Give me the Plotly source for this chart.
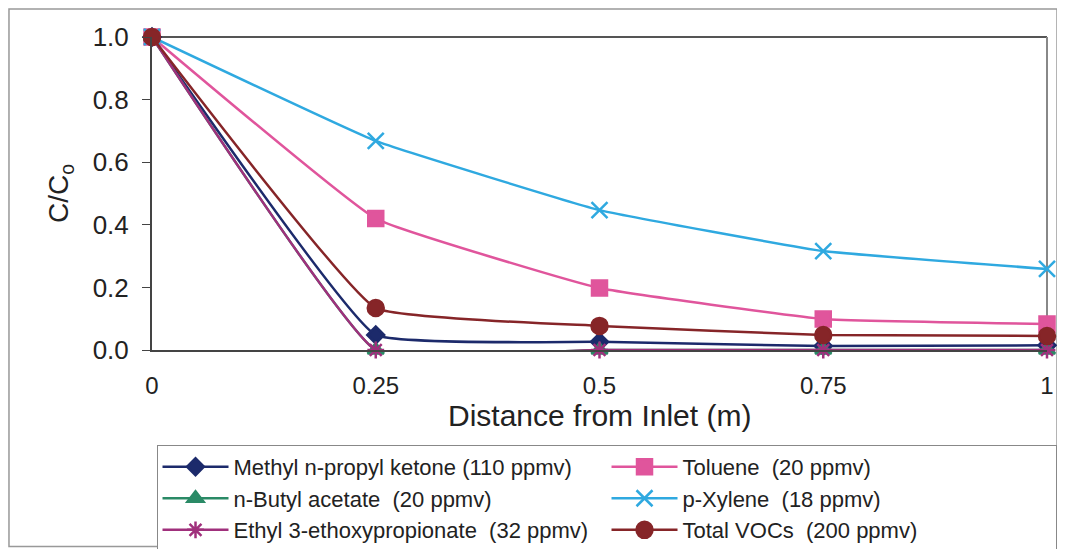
import plotly.graph_objects as go

distance = [0, 0.25, 0.5, 0.75, 1]
mpk = [1.0, 0.048, 0.026, 0.013, 0.015]
toluene = [1.0, 0.42, 0.198, 0.099, 0.083]
butyl = [1.0, 0.0, 0.0, 0.0, 0.0]
xylene = [1.0, 0.668, 0.447, 0.316, 0.259]
ethyl = [1.0, 0.0, 0.0, 0.0, 0.0]
total = [1.0, 0.134, 0.077, 0.048, 0.045]

x_ticks = [0, 0.25, 0.5, 0.75, 1]
x_labels = ["0", "0.25", "0.5", "0.75", "1"]
y_ticks = [0, 0.2, 0.4, 0.6, 0.8, 1.0]
y_labels = ["0.0", "0.2", "0.4", "0.6", "0.8", "1.0"]

series = [
    ("Methyl n-propyl ketone (110 ppmv)", mpk, "#1c2a6b", "diamond", 13),
    ("Toluene  (20 ppmv)", toluene, "#e0559c", "square", 15),
    ("n-Butyl acetate  (20 ppmv)", butyl, "#2a8a66", "triangle-up", 14),
    ("p-Xylene  (18 ppmv)", xylene, "#2fa9e0", "x-thin", 16),
    ("Ethyl 3-ethoxypropionate  (32 ppmv)", ethyl, "#a0307c", "asterisk", 14),
    ("Total VOCs  (200 ppmv)", total, "#862528", "circle", 16),
]

fig = go.Figure()
for i, (name, vals, color, sym, size) in enumerate(series):
    fig.add_trace(go.Scatter(
        x=distance, y=vals, name=name, mode="lines+markers",
        line=dict(color=color, width=2.5, shape="spline", smoothing=0.3),
        marker=dict(symbol=sym, size=size, color=color,
                    line=dict(color=color, width=2.5)),
        cliponaxis=False,
    ))

# page body adds an 8px offset on the left and top
fig.update_layout(
    width=1057, height=541,
    margin=dict(l=144, r=18, t=29, b=199, autoexpand=False),
    paper_bgcolor="white", plot_bgcolor="white",
    font=dict(family="Liberation Sans, Arial, sans-serif", color="#222"),
    showlegend=True,
    legend=dict(
        orientation="h", xref="container", yref="container",
        x=0.1405, y=0.1925, xanchor="left", yanchor="top",
        font=dict(size=22, color="#222"), bordercolor="#888", borderwidth=1,
        entrywidth=368, itemwidth=66, tracegroupgap=0, traceorder="normal",
        bgcolor="white",
    ),
    xaxis=dict(
        range=[0, 1], tickvals=x_ticks, ticktext=x_labels, automargin=False,
        tickfont=dict(size=24), showline=True, linecolor="#444", linewidth=2,
        mirror=False, ticks="", showgrid=False, zeroline=False,
        ticklabelstandoff=13,
    ),
    yaxis=dict(
        range=[0, 1], tickvals=y_ticks, ticktext=y_labels, automargin=False,
        tickfont=dict(size=26), showline=True, linecolor="#444", linewidth=2,
        ticks="outside", ticklen=8, tickcolor="#444", showgrid=False, zeroline=False,
        ticklabelstandoff=8,
        title=dict(text="C/C<sub>o</sub>", font=dict(size=28), standoff=16),
    ),
    annotations=[
        dict(text="Distance from Inlet (m)", xref="paper", yref="paper",
             x=0.5, y=-0.209, xanchor="center", yanchor="middle",
             showarrow=False, font=dict(size=30, color="#222")),
    ],
    shapes=[
        dict(type="line", xref="paper", yref="paper", x0=0, x1=1, y0=1, y1=1,
             line=dict(color="#555", width=2), layer="below"),
        dict(type="line", xref="paper", yref="paper", x0=1, x1=1, y0=0, y1=1,
             line=dict(color="#888", width=2), layer="below"),
        dict(type="rect", xref="paper", yref="paper", x0=-0.1598, x1=1.0112,
             y0=-0.6275, y1=1.0895, line=dict(color="#999", width=1.5), layer="below"),
    ],
)

fig.write_html("out.html")
